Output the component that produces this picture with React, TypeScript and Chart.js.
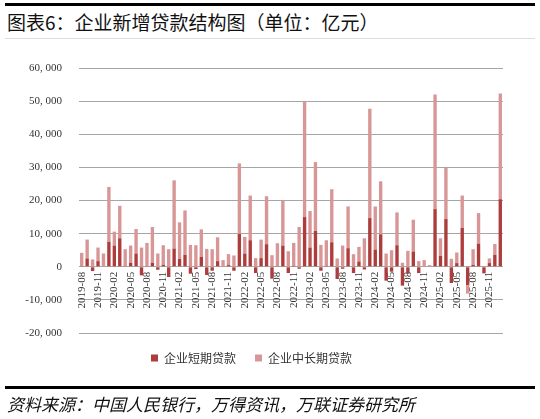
import React, { useEffect, useRef } from 'react';
import { Chart, registerables } from 'chart.js';

Chart.register(...registerables);

const months: string[] = [
  '2019-08', '2019-09', '2019-10', '2019-11', '2019-12',
  '2020-01', '2020-02', '2020-03', '2020-04', '2020-05', '2020-06', '2020-07', '2020-08', '2020-09', '2020-10', '2020-11', '2020-12',
  '2021-01', '2021-02', '2021-03', '2021-04', '2021-05', '2021-06', '2021-07', '2021-08', '2021-09', '2021-10', '2021-11', '2021-12',
  '2022-01', '2022-02', '2022-03', '2022-04', '2022-05', '2022-06', '2022-07', '2022-08', '2022-09', '2022-10', '2022-11', '2022-12',
  '2023-01', '2023-02', '2023-03', '2023-04', '2023-05', '2023-06', '2023-07', '2023-08', '2023-09', '2023-10', '2023-11', '2023-12',
  '2024-01', '2024-02', '2024-03', '2024-04', '2024-05', '2024-06', '2024-07', '2024-08', '2024-09', '2024-10', '2024-11', '2024-12',
  '2025-01', '2025-02', '2025-03', '2025-04', '2025-05', '2025-06', '2025-07', '2025-08', '2025-09', '2025-10', '2025-11', '2025-12',
  '2026-01',
];

// 企业短期贷款 (亿元)
const shortTerm: number[] = [
  100, 2500, -1300, 1700, 0,
  7500, 6400, 8600, 100, 1200, 4000, -2600, 100, 1200, -900, 600, -3100,
  5500, 2400, 3600, -2100, -700, 3000, -2500, -1200, 1700, 0, 500, -1200,
  9900, 4000, 8000, -1900, 2600, 6800, -3600, 100, 6400, -1900, 300, -600,
  15000, 5800, 10800, -1200, 300, 7400, -3700, -600, 5600, -1900, 1600, -800,
  14700, 5200, 9800, -4200, -1500, 6500, -5700, -2000, 4600, -1900, 0, 0,
  17400, 3300, 14400, -4900, 1100, 11700, -5500, 600, 7000, -2000, 1100, 3600,
  20400,
];

// 企业中长期贷款 (亿元)
const midLongTerm: number[] = [
  4100, 5700, 2200, 4100, 4000,
  16600, 4200, 9800, 5200, 5200, 7400, 5800, 7100, 10800, 4000, 5900, 5300,
  20600, 11000, 13400, 6600, 6500, 8300, 5400, 5300, 7200, 2000, 3300, 3400,
  21300, 5000, 13500, 2600, 5600, 14500, 3500, 7000, 13600, 4700, 6900, 12000,
  35000, 11000, 20800, 6600, 7700, 16000, 2500, 6400, 12600, 3800, 4400, 8600,
  33000, 13000, 16000, 4000, 5000, 9900, 1200, 4800, 9600, 1700, 2000, 500,
  34600, 5300, 15500, 2400, 3200, 9800, -2600, 4700, 9200, 100, 1400, 3300,
  31900,
];

const yTicks: number[] = [60000, 50000, 40000, 30000, 20000, 10000, 0, -10000, -20000];

const seriesNames: string[] = ['企业短期贷款', '企业中长期贷款'];
const title = '图表6：企业新增贷款结构图（单位：亿元）';
const source = '资料来源：中国人民银行，万得资讯，万联证券研究所';

const DARK = '#AD3C3C';
const PINK = '#D89696';

function fmt(v: number): string {
  const s = Math.abs(v).toLocaleString('en-US').replace(/,/g, ', ');
  return (v < 0 ? '-' : '') + s;
}

export default function App() {
  const ref = useRef<HTMLCanvasElement | null>(null);

  useEffect(() => {
    if (!ref.current) return;
    const chart = new Chart(ref.current, {
      type: 'bar',
      data: {
        labels: months,
        datasets: [
          {
            label: seriesNames[0],
            data: shortTerm,
            backgroundColor: DARK,
            borderWidth: 0,
            barPercentage: 0.62,
            categoryPercentage: 1,
          },
          {
            label: seriesNames[1],
            data: midLongTerm,
            backgroundColor: PINK,
            borderWidth: 0,
            barPercentage: 0.62,
            categoryPercentage: 1,
          },
        ],
      },
      options: {
        animation: false,
        responsive: false,
        maintainAspectRatio: false,
        events: [],
        layout: { padding: { top: 68, left: 0, right: 37, bottom: 45 } },
        plugins: {
          tooltip: { enabled: false },
          title: { display: false },
          legend: {
            display: true,
            position: 'bottom',
            labels: {
              boxWidth: 7,
              boxHeight: 7,
              padding: 19,
              color: '#333',
              font: { family: '"Noto Sans CJK SC"', size: 12 },
            },
          },
        },
        scales: {
          x: {
            type: 'category',
            stacked: true,
            position: { y: 0 } as any,
            offset: true,
            grid: { display: false, drawTicks: false },
            border: { display: false },
            ticks: {
              autoSkip: false,
              minRotation: 90,
              maxRotation: 90,
              padding: 5,
              color: '#333',
              font: { family: '"Liberation Serif"', size: 11 },
              callback: (_v: any, i: number) => (i % 3 === 0 ? months[i] : ''),
            },
          },
          y: {
            stacked: true,
            min: -20000,
            max: 60000,
            afterFit: (scale: any) => {
              scale.width = 79;
            },
            afterBuildTicks: (scale: any) => {
              scale.ticks = yTicks.map((v) => ({ value: v }));
            },
            grid: { color: '#A6A6A6', lineWidth: 1, drawTicks: false },
            border: { display: false },
            ticks: {
              padding: 17,
              color: '#333',
              font: { family: '"Liberation Serif"', size: 11 },
              callback: (v: any) => fmt(Number(v)),
            },
          },
        },
      },
    });
    return () => chart.destroy();
  }, []);

  return (
    <div style={{ position: 'absolute', left: 0, top: 0, width: 540, height: 419, background: '#fff', overflow: 'hidden' }}>
      <div style={{ position: 'absolute', left: 5, top: 3, width: 530, height: 3, background: '#000' }} />
      <div
        style={{
          position: 'absolute',
          left: 7,
          top: 10,
          fontFamily: '"Noto Sans CJK SC"',
          fontSize: 19,
          lineHeight: '24px',
          color: '#111',
          whiteSpace: 'nowrap',
        }}
      >
        {title}
      </div>
      <div style={{ position: 'absolute', left: 5, top: 38, width: 530, height: 1, background: '#dcdcdc' }} />
      <canvas ref={ref} width={540} height={419} style={{ position: 'absolute', left: 0, top: 0, width: 540, height: 419 }} />
      <div style={{ position: 'absolute', left: 5, top: 386, width: 530, height: 3, background: '#000' }} />
      <div
        style={{
          position: 'absolute',
          left: 7,
          top: 393,
          fontFamily: '"Noto Sans CJK SC"',
          fontStyle: 'italic',
          fontSize: 17,
          lineHeight: '22px',
          color: '#111',
          whiteSpace: 'nowrap',
        }}
      >
        {source}
      </div>
    </div>
  );
}
